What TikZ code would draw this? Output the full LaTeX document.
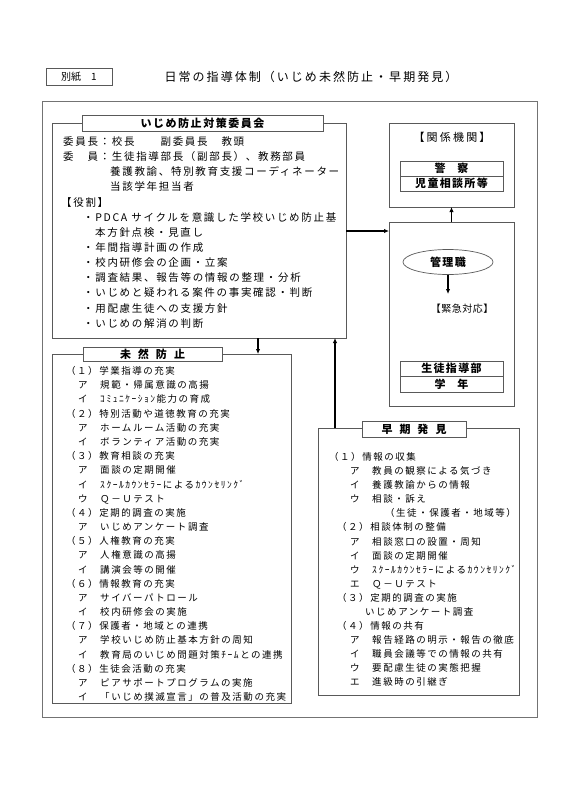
\documentclass[tikz,border=0pt]{standalone}
\usepackage{fontspec}
\setmainfont{Noto Sans CJK JP}
\usetikzlibrary{arrows.meta,shapes.geometric}
\newcommand\fC{\fontsize{10.5}{12}\selectfont\addfontfeatures{LetterSpace=16}}
\newcommand\fM{\fontsize{9.5}{11}\selectfont\addfontfeatures{LetterSpace=16}}
\newcommand\fT{\fontsize{12}{14}\selectfont\addfontfeatures{LetterSpace=17}}
\newcommand\fH{\fontsize{11}{13}\selectfont\bfseries\addfontfeatures{LetterSpace=14}}
\newcommand\fK{\fontsize{11}{13}\selectfont\addfontfeatures{LetterSpace=20}}
\newcommand\fB{\fontsize{11}{13}\selectfont\bfseries\addfontfeatures{LetterSpace=12}}
\newcommand\fE{\fontsize{10}{12}\selectfont\addfontfeatures{LetterSpace=5}}
\begin{document}
\begin{tikzpicture}[x=1pt,y=-1pt,
  box/.style={draw=black!65, line width=0.7pt, rectangle, inner sep=0pt, outer sep=0pt, anchor=north west},
  tab/.style={box, anchor=center, fill=white},
  arr/.style={-{Latex[length=5pt,width=4.5pt]}, line width=1.2pt, black},
  cmline/.style={anchor=west, inner sep=0pt, font=\fC, text height=9.2pt, text depth=1.3pt},
  mzline/.style={anchor=west, inner sep=0pt, font=\fM, text height=8.4pt, text depth=1.1pt}]
\useasboundingbox (0,0) rectangle (566,800);

% header
\node[box, minimum width=66pt, minimum height=17pt, font=\fontsize{10}{12}\selectfont] (bessi) at (46,68) {別紙　1};
\node[font=\fT] (title) at (311,77) {日常の指導体制（いじめ未然防止・早期発見）};

% outer frame
\node[box, draw=black!55, line width=1pt, minimum width=495pt, minimum height=616pt] (outer) at (42,101) {};

% committee
\node[box, minimum width=294pt, minimum height=215pt] (comm) at (52,123) {};
\node[tab, minimum width=241pt, minimum height=16pt, font=\fH] (commT) at (202.5,123) {いじめ防止対策委員会};
\foreach \xx/\tx [count=\i from 0] in {
  63/{委員長：校長　　副委員長　教頭},
  63/{委　員：生徒指導部長（副部長）、教務部員},
  110/{養護教諭、特別教育支援コーディネーター},
  110/{当該学年担当者},
  61/{【役割】},
  83/{・PDCA サイクルを意識した学校いじめ防止基},
  95/{本方針点検・見直し},
  83/{・年間指導計画の作成},
  83/{・校内研修会の企画・立案},
  83/{・調査結果、報告等の情報の整理・分析},
  83/{・いじめと疑われる案件の事実確認・判断},
  83/{・用配慮生徒への支援方針},
  83/{・いじめの解消の判断}} {
  \node[cmline] (cm\i) at (\xx, 141.5+15.15*\i) {\tx};
}

% prevention
\node[box, minimum width=239pt, minimum height=349pt] (mizen) at (52,354) {};
\node[tab, minimum width=139pt, minimum height=14pt, font=\fontsize{11}{13}\selectfont\bfseries] (mizenT) at (152.5,354) {未\hspace{7pt}然\hspace{7pt}防\hspace{7pt}止};
\foreach \xx/\tx [count=\i from 0] in {
  66/{（１）学業指導の充実},
  78/{ア　規範・帰属意識の高揚},
  78/{イ　ｺﾐｭﾆｹｰｼｮﾝ能力の育成},
  66/{（２）特別活動や道徳教育の充実},
  78/{ア　ホームルーム活動の充実},
  78/{イ　ボランティア活動の充実},
  66/{（３）教育相談の充実},
  78/{ア　面談の定期開催},
  78/{イ　ｽｸｰﾙｶｳﾝｾﾗｰによるｶｳﾝｾﾘﾝｸﾞ},
  78/{ウ　Ｑ－Ｕテスト},
  66/{（４）定期的調査の実施},
  78/{ア　いじめアンケート調査},
  66/{（５）人権教育の充実},
  78/{ア　人権意識の高揚},
  78/{イ　講演会等の開催},
  66/{（６）情報教育の充実},
  78/{ア　サイバーパトロール},
  78/{イ　校内研修会の実施},
  66/{（７）保護者・地域との連携},
  78/{ア　学校いじめ防止基本方針の周知},
  78/{イ　教育局のいじめ問題対策ﾁｰﾑとの連携},
  66/{（８）生徒会活動の充実},
  78/{ア　ピアサポートプログラムの実施},
  78/{イ　「いじめ撲滅宣言」の普及活動の充実}} {
  \node[mzline] (mz\i) at (\xx, 371+14.17*\i) {\tx};
}

% early detection
\node[box, minimum width=201pt, minimum height=267pt] (souki) at (318,428) {};
\node[tab, minimum width=104pt, minimum height=16pt, font=\fontsize{11}{13}\selectfont\bfseries] (soukiT) at (414,429) {早\hspace{7pt}期\hspace{7pt}発\hspace{7pt}見};
\foreach \xx/\tx [count=\i from 0] in {
  329/{（１）情報の収集},
  350/{ア　教員の観察による気づき},
  350/{イ　養護教諭からの情報},
  350/{ウ　相談・訴え},
  385/{（生徒・保護者・地域等）},
  337/{（２）相談体制の整備},
  350/{ア　相談窓口の設置・周知},
  350/{イ　面談の定期開催},
  350/{ウ　ｽｸｰﾙｶｳﾝｾﾗｰによるｶｳﾝｾﾘﾝｸﾞ},
  350/{エ　Ｑ－Ｕテスト},
  337/{（３）定期的調査の実施},
  365/{いじめアンケート調査},
  337/{（４）情報の共有},
  350/{ア　報告経路の明示・報告の徹底},
  350/{イ　職員会議等での情報の共有},
  350/{ウ　要配慮生徒の実態把握},
  350/{エ　進級時の引継ぎ}} {
  \node[mzline] (sk\i) at (\xx, 457+14.06*\i) {\tx};
}

% related agencies
\node[box, minimum width=125pt, minimum height=84pt] (kankei) at (389,123) {};
\node[font=\fK] (kankeiT) at (452,137) {【関係機関】};
\node[box, minimum width=103pt, minimum height=15pt, font=\fB] (keisatsu) at (400,161) {警\hspace{12pt}察};
\node[box, minimum width=103pt, minimum height=15pt, font=\fB] (jidou) at (400,176) {児童相談所等};

% management box
\node[box, minimum width=125pt, minimum height=184pt] (mainR) at (389,222) {};
\node[ellipse, draw=black!65, line width=0.7pt, minimum width=90pt, minimum height=25pt, inner sep=0pt, outer sep=0pt, font=\fB] (mgr) at (448,262) {管理職};
\node[font=\fE] (kinkyu) at (462,309) {【緊急対応】};
\node[box, minimum width=103pt, minimum height=15pt, font=\fB] (seito) at (400,361) {生徒指導部};
\node[box, minimum width=103pt, minimum height=16pt, font=\fB] (gakunen) at (400,376) {学\hspace{12pt}年};

% connectors
\coordinate (yC) at (0,231);
\coordinate (kEnd) at (448,294);
\coordinate (xA) at (258,0);
\coordinate (xB) at (335,0);
\draw[arr] (mainR.north) -- (kankei.south);
\draw[arr] (comm.east |- yC) -- (mainR.west |- yC);
\draw[arr] (mgr.south) -- (kEnd);
\draw[arr] (xA |- comm.south) -- (xA |- mizen.north);
\draw[arr] (xB |- souki.north) -- (xB |- comm.south);
\end{tikzpicture}
\end{document}
